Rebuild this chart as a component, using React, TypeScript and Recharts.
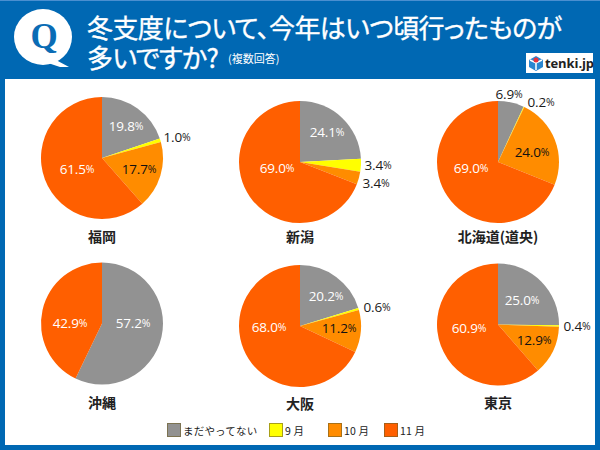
import { PieChart, Pie, Cell, Legend } from 'recharts'

// ─── Data ─────────────────────────────────────────────────────────────────────

const SERIES = ['まだやってない', '9 月', '10 月', '11 月']
const COLORS = ['#929292', '#ffff00', '#ff8c00', '#ff5f00']
const LABEL_COLORS = ['#ffffff', '#1a1a1a', '#111111', '#ffffff']

const CITIES = ['福岡', '新潟', '北海道(道央)', '沖縄', '大阪', '東京']

const fukuoka = [19.8, 1.0, 17.7, 61.5]
const niigata = [24.1, 3.4, 3.4, 69.0]
const hokkaido = [6.9, 0.2, 24.0, 69.0]
const okinawa = [57.2, 0, 0, 42.9]
const osaka = [20.2, 0.6, 11.2, 68.0]
const tokyo = [25.0, 0.4, 12.9, 60.9]

const VALUES = [fukuoka, niigata, hokkaido, okinawa, osaka, tokyo]

// ─── Layout ───────────────────────────────────────────────────────────────────

const CENTERS = [
  [102, 158],
  [300, 162],
  [498, 162],
  [102, 323.5],
  [300, 326],
  [498, 324.5],
]
const RADIUS = 61
const NAME_Y = [236, 236, 236, 402, 403, 402]

// label offsets from each pie's centre, slice by slice
const LABEL_OFFSETS = [
  [[24, -32], [75, -21], [37, 11], [-25, 11]],
  [[27, -30], [78, 3], [76, 21], [-23, 6]],
  [[11, -68], [43, -60], [34, -10], [-27, 6]],
  [[31, -1], [0, 0], [0, 0], [-32, -1]],
  [[26, -30], [77, -19], [39, 2], [-31, 1]],
  [[24, -25], [79, 1], [36, 15], [-29, 3]],
]

const LEGEND_LEFT = [167, 269, 328, 384]

const FONT = '"Open Sans", "Noto Sans CJK JP", sans-serif'
const JP_FONT = '"Noto Sans CJK JP", sans-serif'

// ─── Slice label ──────────────────────────────────────────────────────────────

const sliceLabel = (chart: number) => (props: any) => {
  const { cx, cy, index, value } = props
  if (!value) return null
  const [dx, dy] = LABEL_OFFSETS[chart][index]
  const outside = Math.hypot(dx, dy) > RADIUS
  return (
    <text
      x={cx + dx}
      y={cy + dy}
      textAnchor="middle"
      dominantBaseline="central"
      fontFamily={FONT}
      fontSize={13.5}
      letterSpacing={-0.2}
      fill={outside ? '#1a1a1a' : LABEL_COLORS[index]}
    >
      {value.toFixed(1)}
      <tspan fontSize={10.5}>%</tspan>
    </text>
  )
}

// ─── Legend ───────────────────────────────────────────────────────────────────

const renderLegend = () => (
  <div style={{ position: 'relative', width: 600, height: 20 }}>
    {SERIES.map((name, i) => (
      <div
        key={name}
        style={{
          position: 'absolute',
          left: LEGEND_LEFT[i],
          top: 0,
          display: 'flex',
          alignItems: 'center',
          height: 14,
          whiteSpace: 'nowrap',
        }}
      >
        <span
          style={{
            width: 12,
            height: 12,
            background: COLORS[i],
            border: '1px solid rgba(110, 95, 40, 0.6)',
            marginRight: 2,
          }}
        />
        <span style={{ fontFamily: JP_FONT, fontSize: 10.5, color: '#222', letterSpacing: 0.2 }}>{name}</span>
      </div>
    ))}
  </div>
)

// ─── Header pieces ────────────────────────────────────────────────────────────

const titleStyle = {
  position: 'absolute',
  left: 87,
  fontFamily: JP_FONT,
  fontSize: 26,
  lineHeight: '30px',
  letterSpacing: -0.6,
  fontFeatureSettings: '"palt"',
  WebkitTextStroke: '0.35px #fff',
  color: '#fff',
  whiteSpace: 'nowrap',
} as const

const Header = () => (
  <>
    <div style={{ position: 'absolute', left: 0, top: 0, width: 600, height: 1, background: '#4a8fd0' }} />
    <svg width={100} height={79} style={{ position: 'absolute', left: 0, top: 0 }}>
      <ellipse cx={43} cy={37} rx={29} ry={28} fill="#fff" />
      <path d="M56 60 L69 67 L60 67 L48 63 Z" fill="#fff" />
      <text
        x={44}
        y={48}
        textAnchor="middle"
        fontFamily='"Liberation Serif", serif'
        fontWeight={700}
        fontSize={35}
        fill="#0a6cb5"
      >
        Q
      </text>
    </svg>
    <div style={{ ...titleStyle, top: 12 }}>冬支度について、今年はいつ頃行ったものが</div>
    <div style={{ ...titleStyle, top: 42 }}>多いですか?</div>
    <div
      style={{
        position: 'absolute',
        left: 228,
        top: 50,
        fontFamily: JP_FONT,
        fontSize: 11,
        lineHeight: '16px',
        color: '#fff',
        whiteSpace: 'nowrap',
      }}
    >
      (複数回答)
    </div>
    <div style={{ position: 'absolute', left: 526, top: 53, width: 67, height: 20, background: '#fff' }}>
      <svg width={16} height={16} style={{ position: 'absolute', left: 2, top: 2 }}>
        <path d="M8 1 L15 5 L15 12 L8 16 L1 12 L1 5 Z" fill="#2a86d0" />
        <path d="M8 8 L8 15 M2 5 L8 8 L14 5" stroke="#fff" strokeWidth={1.5} fill="none" />
        <circle cx={8} cy={5} r={2.5} fill="#e8323c" />
      </svg>
      <span
        style={{
          position: 'absolute',
          left: 19,
          top: 0,
          lineHeight: '20px',
          fontFamily: '"Open Sans", sans-serif',
          fontWeight: 700,
          fontSize: 13,
          color: '#222',
          letterSpacing: -0.1,
        }}
      >
        tenki.jp
      </span>
    </div>
  </>
)

// ─── App ──────────────────────────────────────────────────────────────────────

export default function App() {
  return (
    <div
      style={{
        position: 'absolute',
        left: 0,
        top: 0,
        width: 600,
        height: 450,
        background: '#0068b3',
        overflow: 'hidden',
      }}
    >
      <Header />
      <div style={{ position: 'absolute', left: 5, top: 79, width: 590, height: 366, background: '#fff' }} />

      <div style={{ position: 'absolute', left: 0, top: 0 }}>
        <PieChart width={600} height={450} margin={{ top: 0, right: 0, bottom: 0, left: 0 }}>
          {VALUES.map((vals, c) => (
            <Pie
              key={CITIES[c]}
              data={vals.map((v, i) => ({ name: SERIES[i], value: v }))}
              dataKey="value"
              nameKey="name"
              cx={CENTERS[c][0]}
              cy={CENTERS[c][1]}
              innerRadius={0}
              outerRadius={RADIUS}
              startAngle={90}
              endAngle={-270}
              stroke="none"
              labelLine={false}
              label={sliceLabel(c)}
              isAnimationActive={false}
            >
              {vals.map((_, i) => (
                <Cell key={SERIES[i]} fill={COLORS[i]} stroke="none" />
              ))}
            </Pie>
          ))}
          <Legend content={renderLegend} wrapperStyle={{ left: 0, top: 423, width: 600, height: 20 }} />
        </PieChart>
      </div>

      {CITIES.map((name, c) => (
        <div
          key={name}
          style={{
            position: 'absolute',
            left: CENTERS[c][0] - 70,
            top: NAME_Y[c] - 11,
            width: 140,
            height: 22,
            lineHeight: '22px',
            textAlign: 'center',
            fontFamily: JP_FONT,
            fontWeight: 700,
            fontSize: 14,
            color: '#222',
          }}
        >
          {name}
        </div>
      ))}
    </div>
  )
}
